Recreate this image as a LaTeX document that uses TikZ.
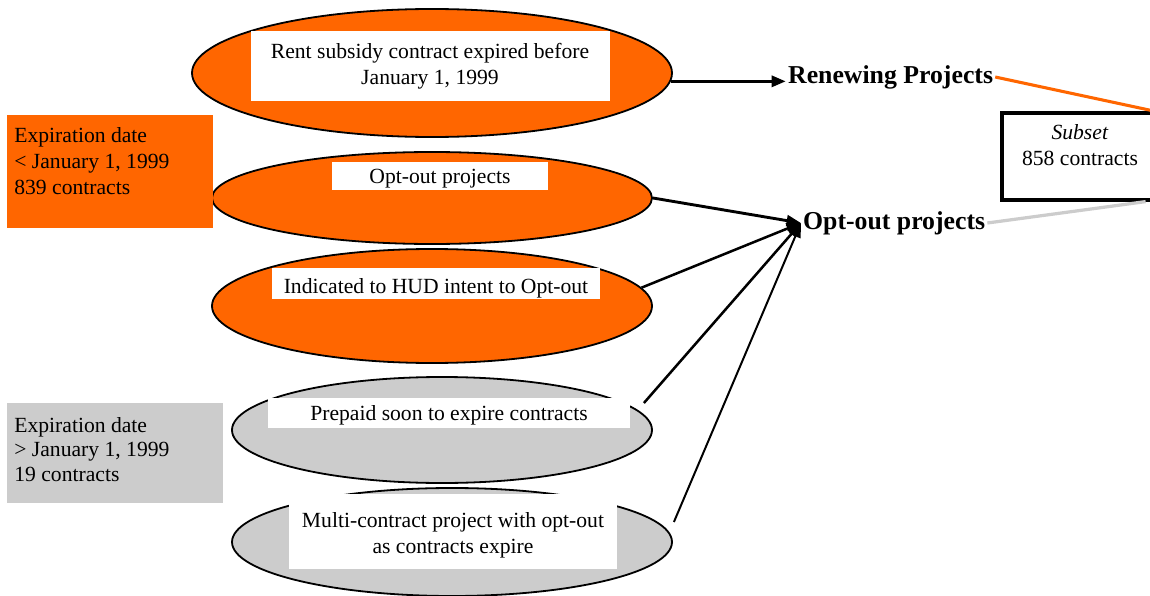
\documentclass[tikz,border=0pt]{standalone}
\usepackage{fontspec}
\setmainfont{Liberation Serif}
\usetikzlibrary{calc, positioning}
\usetikzlibrary{arrows.meta}
\usetikzlibrary{shapes.geometric}

\definecolor{hudorange}{RGB}{255,102,0}
\definecolor{hudgray}{RGB}{204,204,204}
\newcommand{\unitpx}{0.555pt}

\begin{document}
\begin{tikzpicture}[x=\unitpx, y=-\unitpx, >={Triangle[length=8pt, width=6pt]},
        every node/.style={font=\fontsize{12}{14.4}\selectfont},
        oval/.style={draw, ellipse, line width=1pt, inner sep=0pt},
        whitebox/.style={fill=white, inner sep=0pt},
        boxtext/.style={inner sep=0pt, align=center},
        datetext/.style={inner sep=0pt, anchor=north west, align=left},
        heading/.style={font=\fontsize{14.3}{16}\selectfont\bfseries, inner sep=1pt, anchor=west}]
        \useasboundingbox (0,0) rectangle (1150,596);
        \clip (0,0) rectangle (1150,596);

        % ovals
        \node[oval, fill=hudorange, minimum width=480*\unitpx, minimum height=128*\unitpx] (rentoval) at (432,73) {};
        \node[oval, fill=hudorange, minimum width=440*\unitpx, minimum height=92*\unitpx] (optoval) at (432,198) {};
        \node[oval, fill=hudorange, minimum width=440*\unitpx, minimum height=114*\unitpx] (hudoval) at (432,306) {};
        \node[oval, fill=hudgray, minimum width=420*\unitpx, minimum height=106*\unitpx] (prepaidoval) at (442,430) {};
        \node[oval, fill=hudgray, minimum width=440*\unitpx, minimum height=108*\unitpx] (multioval) at (452,542) {};

        \node[whitebox, minimum width=359*\unitpx, minimum height=70*\unitpx] (rentbox) at (430,66) {};
        \node[boxtext] (renttext) at ($(rentbox.center)+(0,0)$) {Rent subsidy contract expired before\\January 1, 1999};
        \node[whitebox, minimum width=216*\unitpx, minimum height=28*\unitpx] (optbox) at (440,176) {};
        \node[boxtext] (opttext) at ($(optbox.center)+(0,3)$) {Opt-out projects};
        \node[whitebox, minimum width=328*\unitpx, minimum height=31*\unitpx] (hudbox) at (436,283) {};
        \node[boxtext] (hudtext) at ($(hudbox.center)+(0,5)$) {Indicated to HUD intent to Opt-out};
        \node[whitebox, minimum width=362*\unitpx, minimum height=30*\unitpx] (prepaidbox) at (449,413) {};
        \node[boxtext] (prepaidtext) at ($(prepaidbox.center)+(0,2)$) {Prepaid soon to expire contracts};
        \node[whitebox, minimum width=328*\unitpx, minimum height=75*\unitpx] (multibox) at (453,531) {};
        \node[boxtext] (multitext) at ($(multibox.center)+(0,4)$) {Multi-contract project with opt-out\\as contracts expire};

        % expiration date boxes
        \node[fill=hudorange, anchor=north west, inner sep=0pt,
            minimum width=206*\unitpx, minimum height=113*\unitpx] (earlybox) at (7,115) {};
        \node[datetext] (earlytext) at ($(earlybox.north west)+(7,12)$)
            {Expiration date\\< January 1, 1999\\839 contracts};
        \node[fill=hudgray, anchor=north west, inner sep=0pt,
            minimum width=216*\unitpx, minimum height=100*\unitpx] (latebox) at (7,403) {};
        \node[datetext, font=\fontsize{12}{13.6}\selectfont] (latetext) at ($(latebox.north west)+(7,14)$)
            {Expiration date\\> January 1, 1999\\19 contracts};

        \node[heading] (renew) at (786,77) {Renewing Projects};
        \node[heading] (optout) at (801,223) {Opt-out projects};

        % subset box, runs off the right edge
        \node[draw, line width=2pt, fill=white, anchor=north west, inner sep=0pt,
            minimum width=160*\unitpx, minimum height=87*\unitpx] (subset) at (1000,111) {};
        \node[inner sep=0pt, anchor=north, align=center] (subsettext) at (1080,124)
            {\textit{Subset}\\858 contracts};

        \draw[hudorange, line width=1.7pt] (renew.east) -- ($(subset.north west)!0.94!(subset.north east)$);
        \draw[hudgray, line width=1.8pt] (optout.east) -- ($(subset.south west)!0.89!(subset.south east)$);

        \draw[->, line width=2pt] (rentoval.-2) -- (rentoval.-2 -| renew.west);

        \coordinate (prepaidexit) at ($(prepaidoval.east)+(-9,-27)$);
        \coordinate (multiexit) at ($(multioval.east)+(1,-20)$);
        \draw[->, line width=1.6pt] (optoval.east) -- (optout.west);
        \draw[->, line width=1.4pt] (hudoval.5) -- (optout.west);
        \draw[->, line width=1.4pt] (prepaidexit) -- (optout.west);
        \draw[->, line width=1.1pt] (multiexit) -- (optout.west);
\end{tikzpicture}
\end{document}
